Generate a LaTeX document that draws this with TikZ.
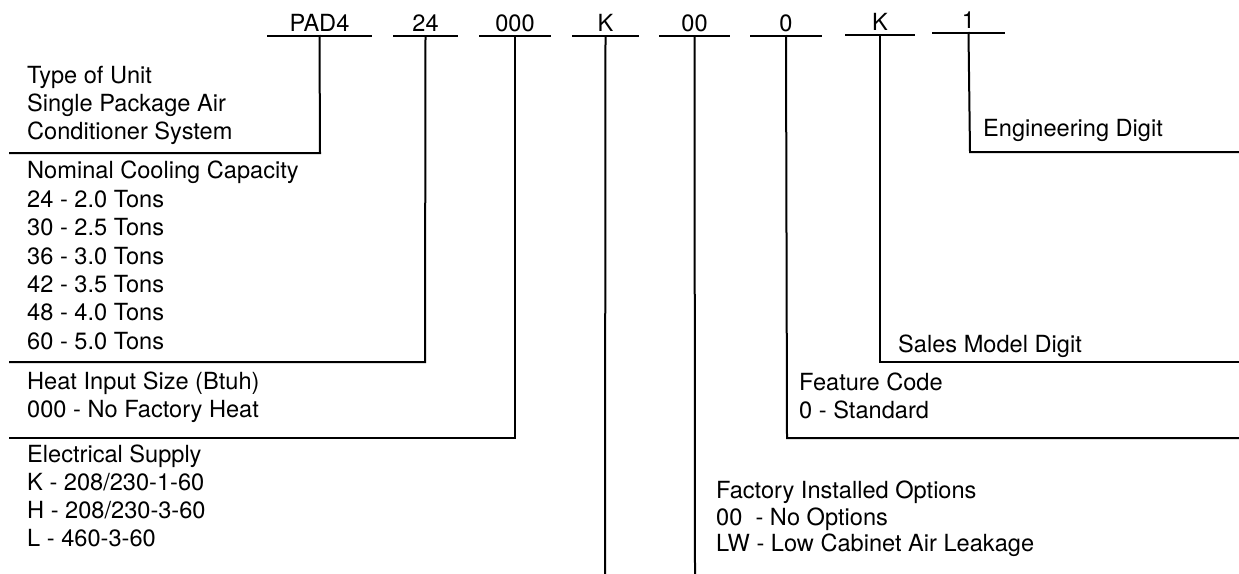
\documentclass[tikz,border=0pt]{standalone}
\usepackage{fontspec}
\setmainfont{TeX Gyre Heros}
\begin{document}
\begin{tikzpicture}[x=1pt,y=-1pt,
  lbl/.style={font=\fontsize{23.6}{28}\selectfont, anchor=base west, inner sep=0pt},
  codelbl/.style={font=\fontsize{23.6}{28}\selectfont, anchor=base, inner sep=0pt},
  seg/.style={line width=2.4pt},
  lead/.style={line width=2pt, line cap=rect}]
\useasboundingbox (0,0) rectangle (1239,573);

% code segments
\foreach \n/\l/\r/\y in {a/267/372/36, b/393/458/36, c/479/551/36, d/572/639/36, e/659/730/36, f/750/822/36, g/845/915/35, h/932/1005/33}{
  \coordinate (\n L) at (\l,\y);
  \coordinate (\n R) at (\r,\y);
  \coordinate (\n) at ({(\l+\r)/2},\y);
  \draw[seg] (\n L) -- (\n R);
}
\node[codelbl] (la) at ([yshift=5pt]a) {PAD4};
\node[codelbl] (lb) at ([yshift=5pt]b) {24};
\node[codelbl] (lc) at ([yshift=5pt]c) {000};
\node[codelbl] (ld) at ([yshift=5pt]d) {K};
\node[codelbl] (le) at ([yshift=5pt]e) {00};
\node[codelbl] (lf) at ([yshift=5pt]f) {0};
\node[codelbl] (lg) at ([yshift=5pt]g) {K};
\node[codelbl] (lh) at ([yshift=5pt]h) {1};

% corner and end coordinates
\coordinate (ca) at (320,153);  \coordinate (ea) at (10,153);
\coordinate (cb) at (425,362);  \coordinate (eb) at (10,362);
\coordinate (cc) at (515,438);  \coordinate (ec) at (10,438);
\coordinate (ed) at (605,573);
\coordinate (ee) at (695,573);
\coordinate (cf) at (787,438);  \coordinate (ef) at (1239,438);
\coordinate (cg) at (880,362);  \coordinate (eg) at (1239,362);
\coordinate (ch) at (970,152);  \coordinate (eh) at (1239,152);

\draw[lead] (a) -- (ca) -- (ea);
\draw[lead] (b) -- (cb) -- (eb);
\draw[lead] (c) -- (cc) -- (ec);
\draw[lead] (d) -- (ed);
\draw[lead] (e) -- (ee);
\draw[lead] (f) -- (cf) -- (ef);
\draw[lead] (g) -- (cg) -- (eg);
\draw[lead] (h) -- (ch) -- (eh);

% left texts
\node[lbl] (t1) at (27,83) {Type of Unit};
\node[lbl] (t2) at (27,111) {Single Package Air};
\node[lbl] (t3) at (27,139) {Conditioner System};

\node[lbl] (n1) at (27,178) {Nominal Cooling Capacity};
\node[lbl] (n2) at (27,207) {24 - 2.0 Tons};
\node[lbl] (n3) at (27,235) {30 - 2.5 Tons};
\node[lbl] (n4) at (27,264) {36 - 3.0 Tons};
\node[lbl] (n5) at (27,292) {42 - 3.5 Tons};
\node[lbl] (n6) at (27,320) {48 - 4.0 Tons};
\node[lbl] (n7) at (27,349) {60 - 5.0 Tons};

\node[lbl] (h1) at (27,389) {Heat Input Size (Btuh)};
\node[lbl] (h2) at (27,417) {000 - No Factory Heat};

\node[lbl] (s1) at (27,462) {Electrical Supply};
\node[lbl] (s2) at (27,490) {K - 208/230-1-60};
\node[lbl] (s3) at (27,518) {H - 208/230-3-60};
\node[lbl] (s4) at (27,546) {L - 460-3-60};

% right texts
\node[lbl] (r1) at (983,136) {Engineering Digit};
\node[lbl] (r2) at (898,352) {Sales Model Digit};
\node[lbl] (f1) at (799,390) {Feature Code};
\node[lbl] (f2) at (799,418) {0 - Standard};
\node[lbl] (o1) at (716,498) {Factory Installed Options};
\node[lbl] (o2) at (716,525) {00\ \ - No Options};
\node[lbl] (o3) at (716,551) {LW - Low Cabinet Air Leakage};
\end{tikzpicture}
\end{document}
